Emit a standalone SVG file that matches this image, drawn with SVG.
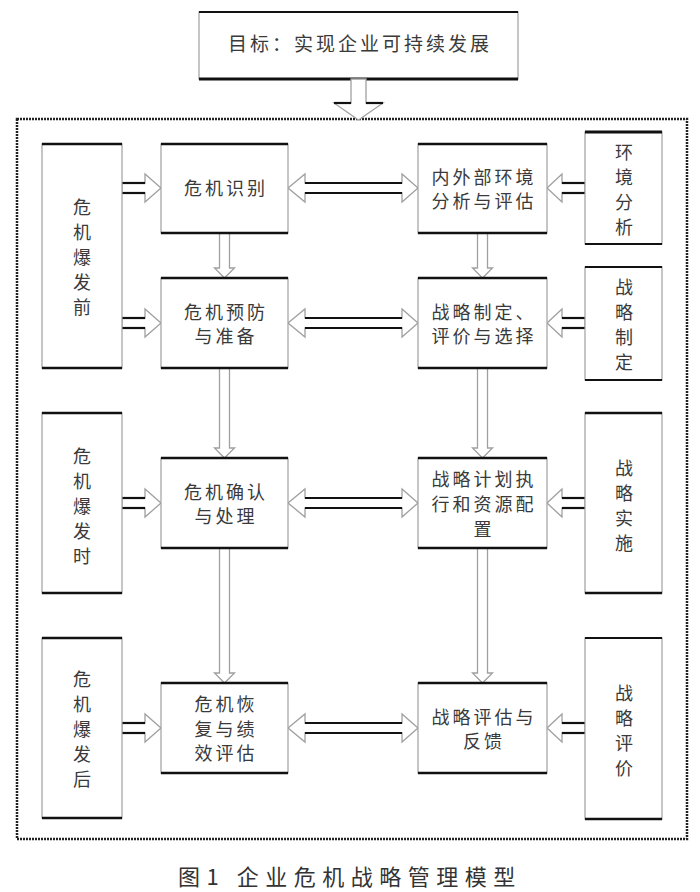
<svg xmlns="http://www.w3.org/2000/svg" width="700" height="892" viewBox="0 0 700 892">
<style>
.bg{fill:#fff}
.box{fill:#fff;stroke:#a0a0a0;stroke-width:1.2}
.edge{stroke:#111;stroke-width:2.5}
.t{font-family:"Noto Sans CJK SC","Noto Sans",sans-serif;font-size:18px;fill:#3a3a3a;text-anchor:middle;letter-spacing:3px}
.tv{font-family:"Noto Sans CJK SC","Noto Sans",sans-serif;font-size:18px;fill:#3a3a3a;text-anchor:middle}
.cap{font-family:"Noto Sans CJK SC","Noto Sans",sans-serif;font-size:22px;fill:#333;letter-spacing:6.5px}
.arr{fill:#fff;stroke:#a0a0a0;stroke-width:1.3;stroke-linejoin:miter}
.sh{stroke:#111;stroke-width:2.2}
.frame{fill:none;stroke:#222;stroke-width:2.5;stroke-dasharray:2 1}
</style>
<rect class="bg" x="0" y="0" width="700" height="892"/>

<rect class="frame" x="17" y="119" width="670" height="720"/>

<g id="goal">
<rect class="box" x="199" y="12" width="319" height="67"/>
<line class="edge" x1="199" y1="12" x2="518" y2="12" style="stroke-width:2"/>
<line class="edge" x1="199" y1="79" x2="518" y2="79" style="stroke-width:3"/>
<text class="t" x="360" y="51" style="font-size:19px">目标：实现企业可持续发展</text>
</g>

<g id="connectors">
<!-- top arrow -->
<polygon class="arr" points="351,79 351,103 334,103 358.5,120 383,103 366,103 366,79"/>
<line class="sh" x1="334" y1="103" x2="351" y2="103"/>
<line class="sh" x1="366" y1="103" x2="383" y2="103"/>

<!-- left -> middle arrows -->
<polygon class="arr" points="122,183 145,183 145,174 161,188 145,202 145,193 122,193"/>
<line class="sh" x1="122" y1="183" x2="145" y2="183"/><line class="sh" x1="122" y1="193" x2="145" y2="193"/>
<polygon class="arr" points="122,318 145,318 145,309 161,323 145,337 145,328 122,328"/>
<line class="sh" x1="122" y1="318" x2="145" y2="318"/><line class="sh" x1="122" y1="328" x2="145" y2="328"/>
<polygon class="arr" points="122,498 145,498 145,489 161,503 145,517 145,508 122,508"/>
<line class="sh" x1="122" y1="498" x2="145" y2="498"/><line class="sh" x1="122" y1="508" x2="145" y2="508"/>
<polygon class="arr" points="122,723 145,723 145,714 161,728 145,742 145,733 122,733"/>
<line class="sh" x1="122" y1="723" x2="145" y2="723"/><line class="sh" x1="122" y1="733" x2="145" y2="733"/>

<!-- double arrows -->
<polygon class="arr" points="288,188 305,174 305,183 402,183 402,174 418,188 402,202 402,193 305,193 305,202"/>
<line class="sh" x1="305" y1="183" x2="402" y2="183"/><line class="sh" x1="305" y1="193" x2="402" y2="193"/>
<polygon class="arr" points="288,323 305,309 305,318 402,318 402,309 418,323 402,337 402,328 305,328 305,337"/>
<line class="sh" x1="305" y1="318" x2="402" y2="318"/><line class="sh" x1="305" y1="328" x2="402" y2="328"/>
<polygon class="arr" points="288,503 305,489 305,498 402,498 402,489 418,503 402,517 402,508 305,508 305,517"/>
<line class="sh" x1="305" y1="498" x2="402" y2="498"/><line class="sh" x1="305" y1="508" x2="402" y2="508"/>
<polygon class="arr" points="288,728 305,714 305,723 402,723 402,714 418,728 402,742 402,733 305,733 305,742"/>
<line class="sh" x1="305" y1="723" x2="402" y2="723"/><line class="sh" x1="305" y1="733" x2="402" y2="733"/>

<!-- right -> middle arrows -->
<polygon class="arr" points="547,188 562,174 562,183 585,183 585,193 562,193 562,202"/>
<line class="sh" x1="562" y1="183" x2="585" y2="183"/><line class="sh" x1="562" y1="193" x2="585" y2="193"/>
<polygon class="arr" points="547,323 562,309 562,318 585,318 585,328 562,328 562,337"/>
<line class="sh" x1="562" y1="318" x2="585" y2="318"/><line class="sh" x1="562" y1="328" x2="585" y2="328"/>
<polygon class="arr" points="547,503 562,489 562,498 585,498 585,508 562,508 562,517"/>
<line class="sh" x1="562" y1="498" x2="585" y2="498"/><line class="sh" x1="562" y1="508" x2="585" y2="508"/>
<polygon class="arr" points="547,728 562,714 562,723 585,723 585,733 562,733 562,742"/>
<line class="sh" x1="562" y1="723" x2="585" y2="723"/><line class="sh" x1="562" y1="733" x2="585" y2="733"/>

<!-- vertical arrows, crisis column -->
<polygon class="arr" points="219.5,233 219.5,268 214.5,268 224.5,278 234.5,268 229.5,268 229.5,233"/>
<polygon class="arr" points="219.5,368 219.5,448 214.5,448 224.5,458 234.5,448 229.5,448 229.5,368"/>
<polygon class="arr" points="219.5,548 219.5,673 214.5,673 224.5,683 234.5,673 229.5,673 229.5,548"/>
<!-- vertical arrows, strategy column -->
<polygon class="arr" points="477.5,233 477.5,268 472.5,268 482.5,278 492.5,268 487.5,268 487.5,233"/>
<polygon class="arr" points="477.5,368 477.5,448 472.5,448 482.5,458 492.5,448 487.5,448 487.5,368"/>
<polygon class="arr" points="477.5,548 477.5,673 472.5,673 482.5,683 492.5,673 487.5,673 487.5,548"/>
</g>

<!-- left column -->
<g id="before">
<rect class="box" x="42" y="144" width="80" height="224"/>
<line class="edge" x1="42" y1="144" x2="122" y2="144"/><line class="edge" x1="42" y1="368" x2="122" y2="368"/>
<text class="tv"><tspan x="82" y="214">危</tspan><tspan x="82" y="239">机</tspan><tspan x="82" y="264">爆</tspan><tspan x="82" y="289">发</tspan><tspan x="82" y="314">前</tspan></text>
</g>
<g id="during">
<rect class="box" x="42" y="413" width="80" height="180"/>
<line class="edge" x1="42" y1="413" x2="122" y2="413"/><line class="edge" x1="42" y1="593" x2="122" y2="593"/>
<text class="tv"><tspan x="82" y="463">危</tspan><tspan x="82" y="488">机</tspan><tspan x="82" y="513">爆</tspan><tspan x="82" y="538">发</tspan><tspan x="82" y="563">时</tspan></text>
</g>
<g id="after">
<rect class="box" x="42" y="638" width="80" height="180"/>
<line class="edge" x1="42" y1="638" x2="122" y2="638"/><line class="edge" x1="42" y1="818" x2="122" y2="818"/>
<text class="tv"><tspan x="82" y="686">危</tspan><tspan x="82" y="711">机</tspan><tspan x="82" y="736">爆</tspan><tspan x="82" y="761">发</tspan><tspan x="82" y="786">后</tspan></text>
</g>

<!-- crisis column -->
<g id="identify">
<rect class="box" x="161" y="144" width="127" height="89"/>
<line class="edge" x1="161" y1="144" x2="288" y2="144"/><line class="edge" x1="161" y1="233" x2="288" y2="233"/>
<text class="t" x="226" y="195">危机识别</text>
</g>
<g id="prevent">
<rect class="box" x="161" y="278" width="127" height="90"/>
<line class="edge" x1="161" y1="278" x2="288" y2="278"/><line class="edge" x1="161" y1="368" x2="288" y2="368"/>
<text class="t"><tspan x="226" y="319">危机预防</tspan><tspan x="226" y="343">与准备</tspan></text>
</g>
<g id="confirm">
<rect class="box" x="161" y="458" width="127" height="90"/>
<line class="edge" x1="161" y1="458" x2="288" y2="458"/><line class="edge" x1="161" y1="548" x2="288" y2="548"/>
<text class="t"><tspan x="226" y="499">危机确认</tspan><tspan x="226" y="523">与处理</tspan></text>
</g>
<g id="recover">
<rect class="box" x="161" y="683" width="127" height="90"/>
<line class="edge" x1="161" y1="683" x2="288" y2="683"/><line class="edge" x1="161" y1="773" x2="288" y2="773"/>
<text class="t"><tspan x="226" y="711">危机恢</tspan><tspan x="226" y="736">复与绩</tspan><tspan x="226" y="760">效评估</tspan></text>
</g>

<!-- strategy column -->
<g id="env-eval">
<rect class="box" x="418" y="144" width="129" height="89"/>
<line class="edge" x1="418" y1="144" x2="547" y2="144"/><line class="edge" x1="418" y1="233" x2="547" y2="233"/>
<text class="t"><tspan x="484" y="184">内外部环境</tspan><tspan x="484" y="208">分析与评估</tspan></text>
</g>
<g id="formulate">
<rect class="box" x="418" y="278" width="129" height="90"/>
<line class="edge" x1="418" y1="278" x2="547" y2="278"/><line class="edge" x1="418" y1="368" x2="547" y2="368"/>
<text class="t"><tspan x="484" y="319">战略制定、</tspan><tspan x="484" y="343">评价与选择</tspan></text>
</g>
<g id="execute">
<rect class="box" x="418" y="458" width="129" height="90"/>
<line class="edge" x1="418" y1="458" x2="547" y2="458"/><line class="edge" x1="418" y1="548" x2="547" y2="548"/>
<text class="t"><tspan x="484" y="486">战略计划执</tspan><tspan x="484" y="511">行和资源配</tspan><tspan x="484" y="536">置</tspan></text>
</g>
<g id="feedback">
<rect class="box" x="418" y="683" width="129" height="90"/>
<line class="edge" x1="418" y1="683" x2="547" y2="683"/><line class="edge" x1="418" y1="773" x2="547" y2="773"/>
<text class="t"><tspan x="484" y="724">战略评估与</tspan><tspan x="484" y="748">反馈</tspan></text>
</g>

<!-- right column -->
<g id="env">
<rect class="box" x="585" y="132" width="77" height="112"/>
<line class="edge" x1="585" y1="132" x2="662" y2="132" style="stroke-width:3"/><line class="edge" x1="585" y1="244" x2="662" y2="244" style="stroke-width:2"/>
<text class="tv"><tspan x="624" y="159">环</tspan><tspan x="624" y="184">境</tspan><tspan x="624" y="209">分</tspan><tspan x="624" y="234">析</tspan></text>
</g>
<g id="strat-form">
<rect class="box" x="585" y="267" width="77" height="113"/>
<line class="edge" x1="585" y1="267" x2="662" y2="267" style="stroke-width:2"/><line class="edge" x1="585" y1="380" x2="662" y2="380" style="stroke-width:2"/>
<text class="tv"><tspan x="624" y="294">战</tspan><tspan x="624" y="319">略</tspan><tspan x="624" y="344">制</tspan><tspan x="624" y="369">定</tspan></text>
</g>
<g id="strat-impl">
<rect class="box" x="585" y="413" width="77" height="180"/>
<line class="edge" x1="585" y1="413" x2="662" y2="413"/><line class="edge" x1="585" y1="593" x2="662" y2="593"/>
<text class="tv"><tspan x="624" y="475">战</tspan><tspan x="624" y="500">略</tspan><tspan x="624" y="525">实</tspan><tspan x="624" y="550">施</tspan></text>
</g>
<g id="strat-eval">
<rect class="box" x="585" y="638" width="77" height="181"/>
<line class="edge" x1="585" y1="638" x2="662" y2="638" style="stroke-width:2"/><line class="edge" x1="585" y1="819" x2="662" y2="819"/>
<text class="tv"><tspan x="624" y="700">战</tspan><tspan x="624" y="725">略</tspan><tspan x="624" y="750">评</tspan><tspan x="624" y="775">价</tspan></text>
</g>

<text class="cap" x="178" y="885">图1 企业危机战略管理模型</text>
</svg>
